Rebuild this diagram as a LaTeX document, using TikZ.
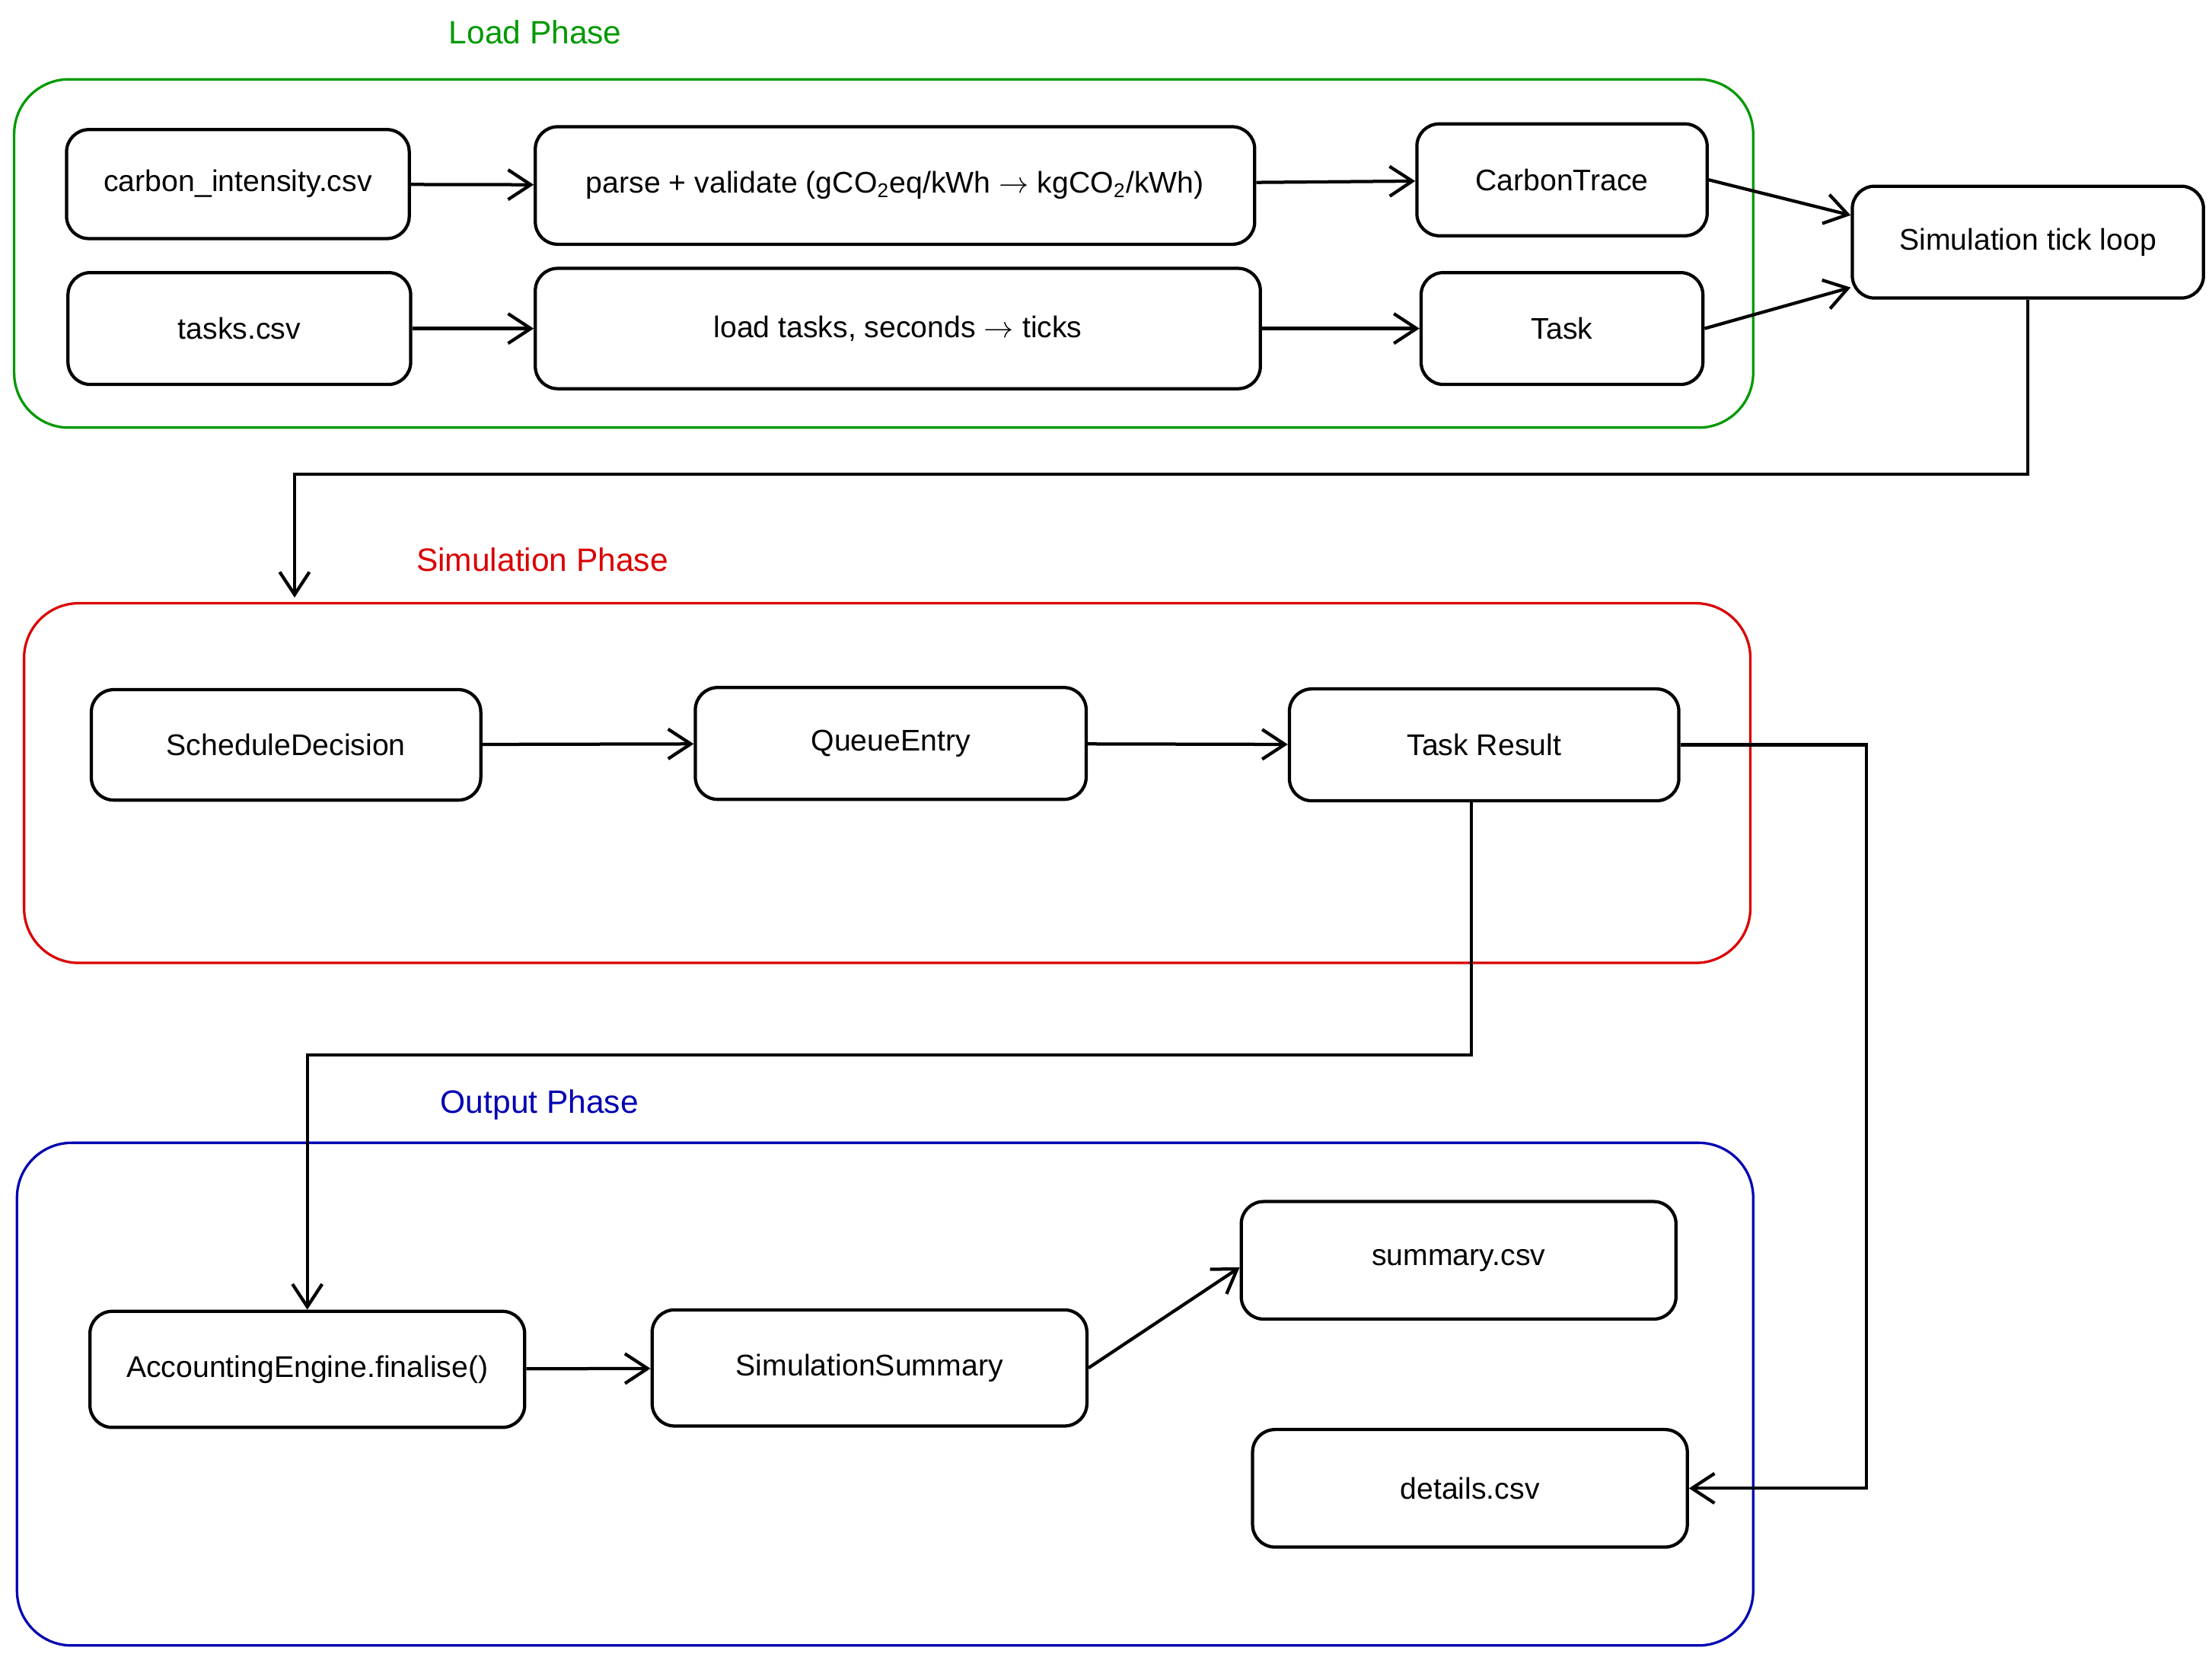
\documentclass[tikz,border=0pt]{standalone}
\usepackage{fontspec}
\setmainfont{Liberation Sans}
\usetikzlibrary{arrows.meta}

\begin{document}
\begin{tikzpicture}[x=0.2mm, y=-0.2mm, line width=1.3pt,
    box/.style={draw, rounded corners=9pt, align=center, inner sep=0pt,
        font=\fontsize{12}{14}\selectfont},
    phase/.style={draw, rounded corners=22pt, line width=1pt},
    lbl/.style={font=\fontsize{13}{15}\selectfont},
    every path/.append style={>={Straight Barb[length=3.2mm, width=4.2mm]}}]
        \useasboundingbox (0, 0) rectangle (1562, 1168);

        % phase frames
        \draw[phase, green!60!black] (10, 56) rectangle (1238, 302);
        \draw[phase, red!85!black] (17, 426) rectangle (1236, 680);
        \draw[phase, blue!70!black] (12, 807) rectangle (1238, 1162);
        \node[lbl, text=green!60!black] at (378, 23) {Load Phase};
        \node[lbl, text=red!85!black] at (383, 395) {Simulation Phase};
        \node[lbl, text=blue!70!black] at (381, 780) {Output Phase};

        % load phase
        \node[box, minimum width=242*0.2mm, minimum height=77*0.2mm] (CI) at (168, 130) {carbon\_intensity.csv};
        \node[box, minimum width=508*0.2mm, minimum height=83*0.2mm] (PV) at (632, 131) {parse + validate (gCO\textsubscript{2}eq/kWh $\rightarrow$ kgCO\textsubscript{2}/kWh)};
        \node[box, minimum width=205*0.2mm, minimum height=79*0.2mm] (CT) at (1103, 127) {CarbonTrace};
        \node[box, minimum width=242*0.2mm, minimum height=79*0.2mm] (TC) at (169, 232) {tasks.csv};
        \node[box, minimum width=512*0.2mm, minimum height=85*0.2mm] (LT) at (634, 232) {load tasks, seconds $\rightarrow$ ticks};
        \node[box, minimum width=199*0.2mm, minimum height=79*0.2mm] (T) at (1103, 232) {Task};
        \node[box, minimum width=248*0.2mm, minimum height=79*0.2mm] (SL) at (1432, 171) {Simulation tick loop};

        \draw[->] (CI) to (PV);
        \draw[->] (PV) to (CT);
        \draw[->] (TC) to (LT);
        \draw[->] (LT) to (T);
        \draw[->] (CT.east) to (SL.west |- 0, 152);
        \draw[->] (T.east) to (SL.west |- 0, 203);

        % simulation phase
        \node[box, minimum width=275*0.2mm, minimum height=78*0.2mm] (SD) at (202, 526) {ScheduleDecision};
        \node[box, minimum width=276*0.2mm, minimum height=79*0.2mm] (QE) at (629, 525) {QueueEntry};
        \node[box, minimum width=275*0.2mm, minimum height=79*0.2mm] (TR) at (1048, 526) {Task Result};
        \coordinate (SIM) at (208, 422);

        \draw[->] (SL.south) -- (SL.south |- 0, 335) -- (SIM |- 0, 335) -- (SIM);
        \draw[->] (SD) to (QE);
        \draw[->] (QE) to (TR);

        % output phase
        \node[box, minimum width=307*0.2mm, minimum height=82*0.2mm] (AE) at (217, 967) {AccountingEngine.finalise()};
        \node[box, minimum width=307*0.2mm, minimum height=82*0.2mm] (SS) at (614, 966) {SimulationSummary};
        \node[box, minimum width=307*0.2mm, minimum height=83*0.2mm] (SC) at (1030, 890) {summary.csv};
        \node[box, minimum width=307*0.2mm, minimum height=83*0.2mm] (DC) at (1038, 1051) {details.csv};

        \draw[->] (TR.south -| 1039, 0) -- (1039, 745) -- (AE.north |- 0, 745) -- (AE.north);
        \draw[->] (TR.east) -| (1318, 1051) -- (DC.east);
        \draw[->] (AE) to (SS);
        \draw[->] (SS.east) to (SC.west |- 0, 895);

      \end{tikzpicture}
\end{document}
